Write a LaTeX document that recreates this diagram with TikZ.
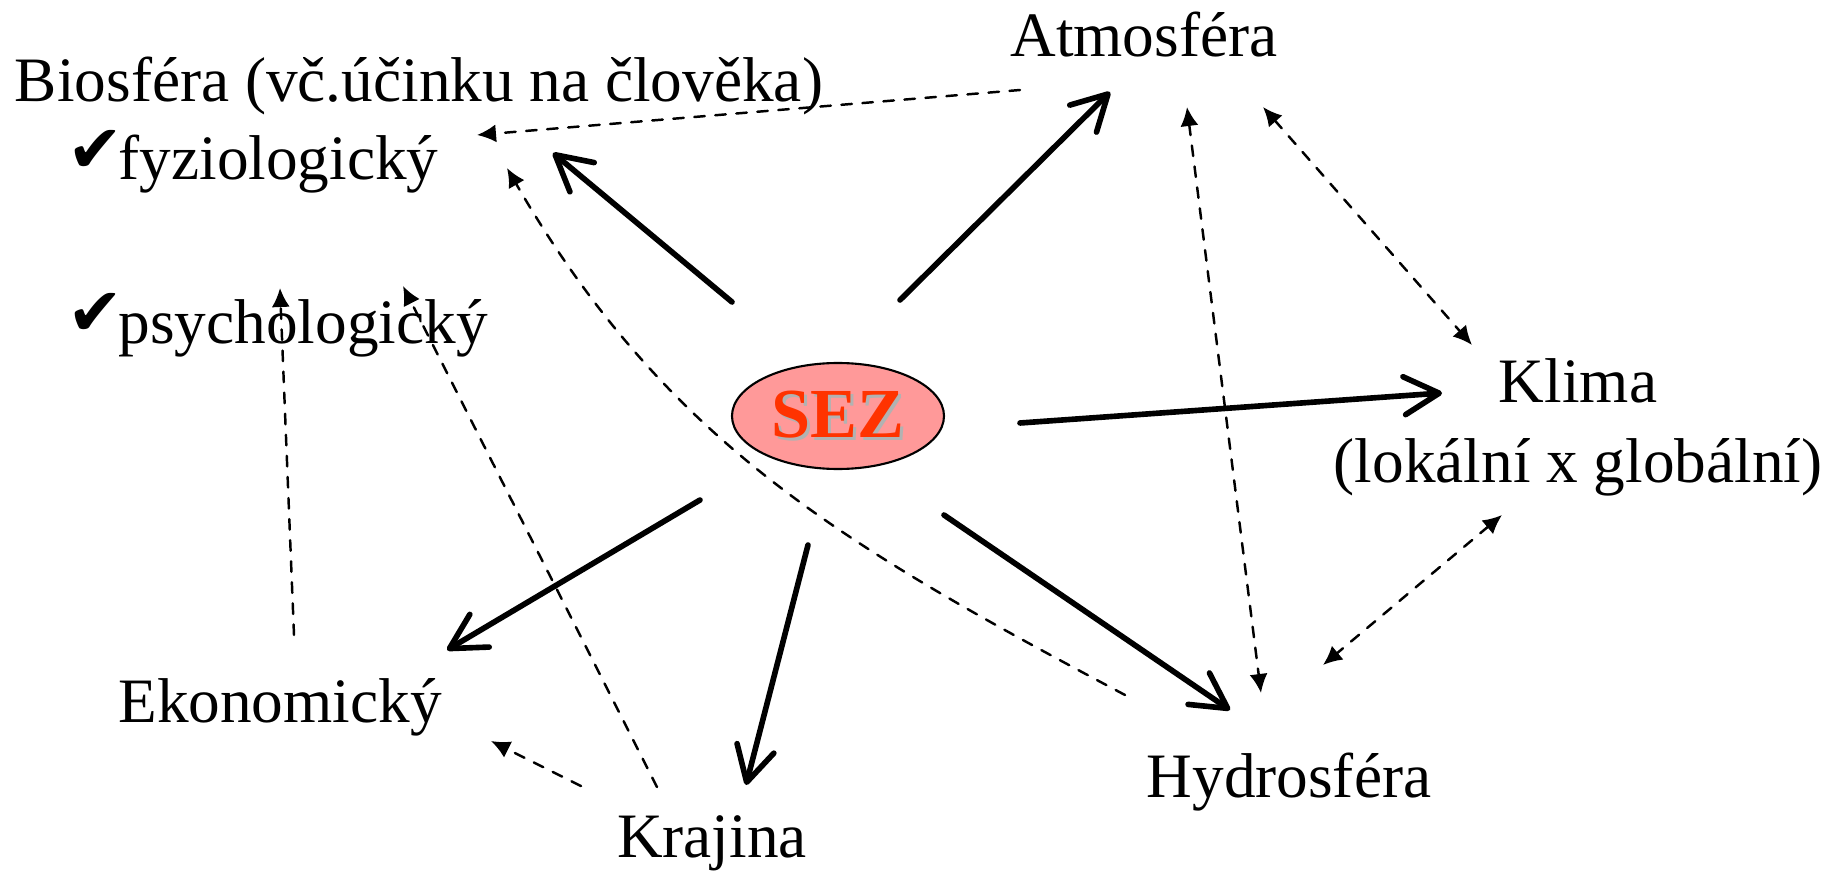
\documentclass[tikz,border=0pt]{standalone}
\usepackage{fontspec}
\setmainfont{Liberation Serif}
\newfontfamily\chkfont{DejaVu Sans}
\usetikzlibrary{arrows.meta,shapes.geometric}
\definecolor{sezfill}{RGB}{255,153,153}
\definecolor{sezred}{RGB}{255,51,0}
\newcommand{\ok}{\makebox[0.46cm][l]{\hspace{-0.05cm}\raisebox{0.07cm}{\chkfont\fontsize{19}{19}\selectfont ✔}}}
\begin{document}
\begin{tikzpicture}[line join=round, line cap=round, >={Latex[length=1.9mm,width=1.8mm]}, font=\fontsize{18}{22.8}\selectfont]
	\useasboundingbox (0,0) rectangle (18.32,8.71);
	\tikzset{lbl/.style={inner sep=0pt, anchor=base},
		mainarrow/.style={line width=1.6pt, -{Straight Barb[round,length=3.5mm,width=3.8mm]}},
		sidearrow/.style={dashed, line width=0.7pt}}
	% texty
	\node[lbl] (atmo) at (11.44,8.14) {Atmosféra};
	\node[lbl] (bio) at (4.19,7.69) {Biosféra (vč.účinku na člověka)};
	\node[lbl, anchor=base west] (fyzio) at (0.72,6.91) {\ok fyziologický};
	\node[lbl, anchor=base west] (psycho) at (0.72,5.28) {\ok psychologický};
	\node[lbl, align=center] (klima) at (15.78,3.88) {Klima\\(lokální x globální)};
	\node[lbl] (eko) at (2.80,1.49) {Ekonomický};
	\node[lbl] (kraj) at (7.12,0.14) {Krajina};
	\node[lbl] (hydro) at (12.89,0.74) {Hydrosféra};
	\node[ellipse, draw, fill=sezfill, line width=0.6pt, minimum width=2.12cm, minimum height=1.06cm, inner sep=0pt, font=\bfseries\fontsize{20}{20}\selectfont] (sez) at (8.38,4.55)
		{\makebox[0pt][l]{\hspace{0.8pt}\raisebox{-0.8pt}{\color{black!30}SEZ}}\textcolor{sezred}{SEZ}};
	% hlavni sipky ze SEZ
	\draw[mainarrow] ([shift={(-1.06,1.14)}]sez.center) -- ([shift={(4.81,0.27)}]fyzio.base west);
	\draw[mainarrow] ([shift={(0.62,1.16)}]sez.center) -- ([shift={(-0.34,-0.35)}]atmo.base);
	\draw[mainarrow] ([shift={(1.82,-0.07)}]sez.center) -- ([shift={(-1.36,0.90)}]klima.base);
	\draw[mainarrow] ([shift={(1.06,-0.99)}]sez.center) -- ([shift={(-0.59,0.87)}]hydro.base);
	\draw[mainarrow] ([shift={(-0.30,-1.29)}]sez.center) -- ([shift={(0.34,0.72)}]kraj.base);
	\draw[mainarrow] ([shift={(-1.38,-0.84)}]sez.center) -- ([shift={(1.67,0.72)}]eko.base);
	% carkovane vazby
	\draw[sidearrow,->] ([shift={(-1.24,-0.33)}]atmo.base) -- ([shift={(0.58,-0.33)}]bio.base);
	\draw[sidearrow,<->] ([shift={(0.43,-0.50)}]atmo.base) -- ([shift={(-0.28,1.04)}]hydro.base);
	\draw[sidearrow,<->] ([shift={(1.19,-0.50)}]atmo.base) -- ([shift={(-1.06,1.38)}]klima.base);
	\draw[sidearrow,<->] ([shift={(-0.76,-0.32)}]klima.base) -- ([shift={(0.34,1.32)}]hydro.base);
	\draw[sidearrow,->] ([shift={(-1.64,1.02)}]hydro.base) to[out=152,in=-60] ([shift={(4.35,0.12)}]fyzio.base west);
	\draw[sidearrow,->] ([shift={(0.14,0.87)}]eko.base) -- ([shift={(2.08,0.55)}]psycho.base west);
	\draw[sidearrow,->] ([shift={(-0.55,0.70)}]kraj.base) -- ([shift={(3.31,0.57)}]psycho.base west);
	\draw[sidearrow,->] ([shift={(-1.31,0.71)}]kraj.base) -- ([shift={(2.11,-0.19)}]eko.base);
\end{tikzpicture}
\end{document}
